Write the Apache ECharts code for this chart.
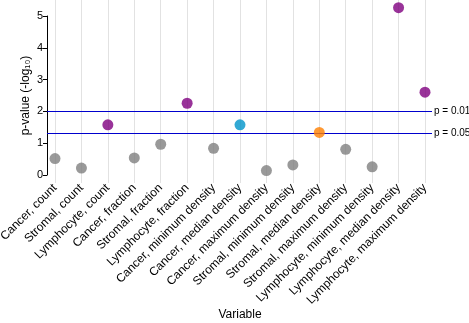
<!DOCTYPE html>
<html>
<head>
<meta charset="utf-8">
<title>p-values</title>
<script src="https://cdn.jsdelivr.net/npm/echarts@6/dist/echarts.min.js"></script>
<style>
  body { margin: 0; background: #fff; }
  #chart { width: 469px; height: 323px; }
</style>
</head>
<body>
<div id="chart"></div>
<script>
// data
const variables = [
  'Cancer, count', 'Stromal, count', 'Lymphocyte, count',
  'Cancer, fraction', 'Stromal, fraction', 'Lymphocyte, fraction',
  'Cancer, minimum density', 'Cancer, median density', 'Cancer, maximum density',
  'Stromal, minimum density', 'Stromal, median density', 'Stromal, maximum density',
  'Lymphocyte, minimum density', 'Lymphocyte, median density', 'Lymphocyte, maximum density'
];
const pValues = [0.50, 0.20, 1.56, 0.52, 0.95, 2.24, 0.82, 1.56, 0.12, 0.30, 1.32, 0.79, 0.24, 5.25, 2.59];
const pointColors = [
  '#808080', '#808080', '#800080', '#808080', '#808080', '#800080', '#808080', '#0093c9',
  '#808080', '#808080', '#ff8000', '#808080', '#808080', '#800080', '#800080'
];
const thresholds = [2, 1.301];
const thresholdLabels = ['p = 0.01', 'p = 0.05'];
const yTicks = [0, 1, 2, 3, 4, 5];

const font = 'Liberation Sans';
const yMin = -0.27, yMax = 5.49;

const chart = echarts.init(document.getElementById('chart'));
chart.setOption({
  animation: false,
  textStyle: { fontFamily: font },
  grid: [
    { left: 47, right: 37, top: 0, bottom: 140, outerBoundsMode: 'none', containLabel: false },
    { left: 55, right: 44, top: 0, bottom: 140, outerBoundsMode: 'none', containLabel: false },
    { left: 47, right: 37, top: 16, bottom: 148, outerBoundsMode: 'none', containLabel: false }
  ],
  xAxis: [
    { gridIndex: 0, type: 'value', min: -0.315, max: 14.26, show: false },
    {
      gridIndex: 1, type: 'category', data: variables, boundaryGap: false,
      axisLine: { show: false }, axisTick: { show: false },
      splitLine: { show: true, lineStyle: { color: '#e2e2e2', width: 1 } },
      axisLabel: { interval: 0, rotate: 45, fontSize: 12, color: '#000', margin: 3, fontFamily: font },
      name: 'Variable', nameLocation: 'middle', nameGap: 126, nameMoveOverlap: false,
      nameTextStyle: { fontSize: 12, color: '#000', fontFamily: font }
    },
    { gridIndex: 2, type: 'value', show: false }
  ],
  yAxis: [
    { gridIndex: 0, type: 'value', min: yMin, max: yMax, show: false },
    { gridIndex: 1, type: 'value', min: yMin, max: yMax, show: false },
    {
      gridIndex: 2, type: 'value', min: yTicks[0], max: yTicks[yTicks.length - 1], interval: 1,
      axisLine: { show: true, lineStyle: { color: '#000', width: 1 } },
      axisTick: { show: true, length: 4, lineStyle: { color: '#000' } },
      axisLabel: { fontSize: 11, color: '#000', margin: 4, fontFamily: font },
      splitLine: { show: false },
      name: 'p-value (-log₁₀)', nameLocation: 'middle', nameRotate: 90, nameGap: 15, nameMoveOverlap: false,
      nameTextStyle: { fontSize: 12, color: '#000', fontFamily: font }
    }
  ],
  series: [
    {
      type: 'scatter', xAxisIndex: 0, yAxisIndex: 0, data: [], z: 1,
      markLine: {
        silent: true, symbol: 'none',
        lineStyle: { color: '#0000cd', width: 1, type: 'solid' },
        label: { position: 'end', distance: 2, fontSize: 10, color: '#000', fontFamily: font },
        data: thresholds.map((t, i) => ({ yAxis: t, label: { formatter: thresholdLabels[i] } }))
      }
    },
    {
      type: 'scatter', xAxisIndex: 1, yAxisIndex: 1, z: 5,
      symbolSize: 11,
      data: pValues.map((v, i) => ({ value: [variables[i], v], itemStyle: { color: pointColors[i] } }))
    }
  ]
});
</script>
</body>
</html>
